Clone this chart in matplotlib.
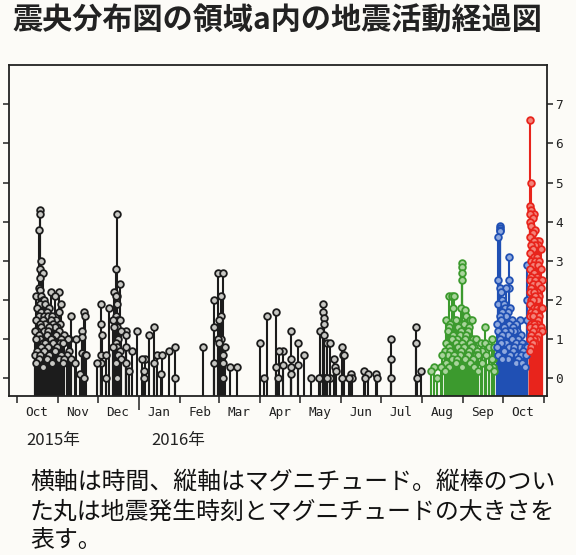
import numpy as np
import matplotlib
matplotlib.use("Agg")
import matplotlib.pyplot as plt
import matplotlib.dates as mdates
from matplotlib.ticker import FixedLocator, NullFormatter, FuncFormatter

# magnitudes, grouped by day (several events per day)
black_days = [
    "2015-10-14", "2015-10-15", "2015-10-16", "2015-10-17", "2015-10-18",
    "2015-10-19", "2015-10-20", "2015-10-21", "2015-10-22", "2015-10-23",
    "2015-10-24", "2015-10-25", "2015-10-26", "2015-10-27", "2015-10-28",
    "2015-10-29", "2015-10-30", "2015-10-31", "2015-11-01", "2015-11-02",
    "2015-11-03", "2015-11-04", "2015-11-05", "2015-11-07", "2015-11-08",
    "2015-11-09", "2015-11-10", "2015-11-13", "2015-11-14", "2015-11-17",
    "2015-11-19", "2015-11-20", "2015-11-21", "2015-11-22", "2015-11-30",
    "2015-12-03", "2015-12-04", "2015-12-07", "2015-12-09", "2015-12-12",
    "2015-12-13", "2015-12-14", "2015-12-15", "2015-12-16", "2015-12-17",
    "2015-12-18", "2015-12-22", "2015-12-24", "2015-12-26", "2015-12-30",
    "2016-01-03", "2016-01-04", "2016-01-05", "2016-01-08", "2016-01-12",
    "2016-01-14", "2016-01-17", "2016-01-18", "2016-01-23", "2016-01-28",
    "2016-02-18", "2016-02-26", "2016-02-29", "2016-03-01", "2016-03-02",
    "2016-03-04", "2016-03-05", "2016-03-09", "2016-03-14", "2016-04-01",
    "2016-04-04", "2016-04-06", "2016-04-13", "2016-04-14", "2016-04-15",
    "2016-04-18", "2016-04-24", "2016-04-29", "2016-05-04", "2016-05-09",
    "2016-05-15", "2016-05-16", "2016-05-18", "2016-05-19", "2016-05-20",
    "2016-05-21", "2016-05-23", "2016-05-26", "2016-05-27", "2016-05-28",
    "2016-06-01", "2016-06-02", "2016-06-03", "2016-06-07", "2016-06-08",
    "2016-06-09", "2016-06-18", "2016-06-19", "2016-06-21", "2016-06-27",
    "2016-06-28", "2016-07-08", "2016-07-27", "2016-07-28", "2016-07-31",
]
black_mags = [
    [1.2, 0.6], [2.1, 1.5, 1.0, 0.4], [1.8, 1.2, 0.7], [3.8, 2.3, 1.6, 1.1, 0.5],
    [4.3, 4.2, 2.8, 2.55, 2.25, 1.9, 1.4, 1.0, 0.6],
    [3.0, 2.1, 1.7, 1.3, 0.8], [2.7, 2.0, 1.5, 0.9, 0.3], [2.0, 1.6, 1.2, 0.7],
    [1.9, 1.4, 0.9], [1.7, 1.1, 0.5],
    [1.6, 1.2, 0.8], [1.8, 1.3, 0.6], [2.2, 1.5, 1.0], [1.6, 1.0, 0.4], [1.4, 0.9],
    [2.1, 1.3, 0.7], [1.5, 1.1], [1.3, 0.8], [2.2, 1.7, 1.2, 0.5], [1.4, 0.9],
    [1.9, 1.0, 0.6], [0.9, 0.4], [1.1, 0.5], [0.6], [1.0],
    [1.0, 0.7], [1.6, 0.5], [0.4], [1.0], [0.1],
    [1.2, 1.05, 0.65], [1.7, 0.0], [1.6, 0.6], [0.6], [0.4],
    [1.9, 1.4, 0.6, 0.4], [1.1], [0.6, 0.0], [1.8], [1.5, 0.8],
    [2.2, 1.3], [2.8, 2.1, 1.6, 0.9, 0.4], [4.2, 2.1, 1.9, 1.3, 0.8, 0.0], [1.5, 1.0, 0.6], [2.4, 1.5, 0.7],
    [1.2, 0.5], [1.2, 1.1, 0.8, 0.4], [0.2], [0.7], [1.2],
    [0.5], [0.2, 0.0], [0.5], [1.1], [1.3, 0.4],
    [0.6], [0.1], [0.6], [0.7], [0.8, 0.0],
    [0.8], [2.0, 1.3, 0.4], [2.7, 1.0], [1.5, 0.9], [2.1, 1.6, 1.0],
    [2.7, 0.6, 0.4, 0.0], [0.8], [0.3], [0.3], [0.9],
    [0.0], [1.6], [1.7, 0.3], [0.0], [0.7],
    [0.7, 0.35], [1.2, 0.5, 0.3, 0.1], [0.9, 0.35], [0.6], [0.0],
    [0.0], [1.2, 0.0], [1.9, 1.7, 0.0], [1.55, 1.4, 1.1, 0.0], [0.0],
    [0.9, 0.0], [0.9, 0.0], [0.5], [0.3], [0.2],
    [0.8, 0.0], [0.6], [0.6], [0.0], [0.1],
    [0.0], [0.2], [0.0], [0.1], [0.1],
    [0.0], [1.0, 0.5, 0.0], [1.3, 0.9], [0.0], [0.2],
]

green_days = [
    "2016-08-07", "2016-08-10", "2016-08-12", "2016-08-15", "2016-08-16",
    "2016-08-18", "2016-08-19", "2016-08-20", "2016-08-21", "2016-08-22",
    "2016-08-23", "2016-08-24", "2016-08-25", "2016-08-26", "2016-08-27",
    "2016-08-28", "2016-08-29", "2016-08-30", "2016-08-31", "2016-09-01",
    "2016-09-02", "2016-09-03", "2016-09-04", "2016-09-05", "2016-09-06",
    "2016-09-07", "2016-09-08", "2016-09-09", "2016-09-10", "2016-09-11",
    "2016-09-12", "2016-09-14", "2016-09-15", "2016-09-17", "2016-09-18",
    "2016-09-20", "2016-09-22", "2016-09-23", "2016-09-24",
]
green_mags = [
    [0.2], [0.3], [0.0], [0.3], [0.6],
    [0.7, 0.2], [1.5, 0.9, 0.4], [1.2, 0.6], [2.1, 1.3, 0.8, 0.3], [1.4, 0.7],
    [2.1, 1.0, 0.5], [1.8, 1.1], [2.1, 1.5, 0.6], [1.5, 0.9, 0.4], [1.0, 0.5],
    [1.3, 0.8], [1.1, 0.6], [1.8, 1.2, 0.7], [2.95, 2.85, 2.7, 2.5, 1.4, 0.9, 0.3], [1.4, 0.8],
    [1.75, 1.0, 0.5], [1.6, 1.1], [1.2, 0.6], [1.3, 0.7], [1.5, 0.9, 0.4],
    [1.5, 0.8], [1.0, 0.5], [0.8, 0.3], [1.0, 0.6], [0.7],
    [0.6, 0.2], [0.9], [0.7, 0.4], [1.3, 0.9], [0.6],
    [0.8, 0.3], [1.0, 0.5], [0.5, 0.3], [0.8, 0.2],
]

blue_days = [
    "2016-09-26", "2016-09-27", "2016-09-28", "2016-09-29", "2016-09-30",
    "2016-10-01", "2016-10-02", "2016-10-03", "2016-10-04", "2016-10-05",
    "2016-10-06", "2016-10-07", "2016-10-08", "2016-10-09", "2016-10-10",
    "2016-10-11", "2016-10-12", "2016-10-13", "2016-10-14", "2016-10-15",
    "2016-10-16", "2016-10-17", "2016-10-18", "2016-10-19",
]
blue_mags = [
    [1.4, 0.8], [3.6, 2.5, 1.9, 1.2, 0.6], [3.9, 3.85, 3.8, 3.75, 2.3, 1.6, 1.0],
    [2.2, 1.5, 0.9], [2.0, 1.7, 1.1, 0.5],
    [1.9, 1.3, 0.7], [1.8, 1.2], [2.3, 1.6, 0.9], [1.7, 1.1, 0.5], [3.1, 2.5, 2.3, 1.4, 0.8],
    [1.8, 1.2, 0.6], [1.5, 1.0], [1.3, 0.7], [1.2, 0.8], [1.4, 0.9, 0.4],
    [1.2, 0.6], [1.0, 0.5], [1.5, 0.8], [1.1, 0.6], [0.9, 0.4],
    [0.7], [0.8, 0.3], [0.6], [2.9, 2.0, 1.5, 0.8],
]

red_days = [
    "2016-10-21", "2016-10-22", "2016-10-23", "2016-10-24", "2016-10-25",
    "2016-10-26", "2016-10-27", "2016-10-28", "2016-10-29", "2016-10-30",
]
red_mags = [
    [4.2, 4.4, 4.0, 3.6, 3.2, 2.8, 2.5, 2.2, 1.9, 1.6, 1.3, 1.0, 0.7],
    [5.0, 4.3, 3.9, 3.4, 3.0, 2.6, 2.3, 2.0, 1.7, 1.4, 1.1, 0.8],
    [4.1, 3.7, 3.3, 2.9, 2.4, 2.0, 1.6, 1.2, 0.9],
    [4.2, 3.5, 3.1, 2.7, 2.2, 1.8, 1.4, 1.0],
    [3.8, 3.4, 3.0, 2.5, 2.1, 1.7, 1.3, 0.9],
    [3.5, 3.1, 2.6, 2.2, 1.8, 1.4, 1.0],
    [3.4, 2.9, 2.4, 2.0, 1.5, 1.1],
    [3.5, 3.0, 2.5, 2.1, 1.6, 1.2],
    [3.3, 2.8, 2.3, 1.8, 1.3],
    [2.5, 1.8, 1.2],
]
main_time = "2016-10-21 14:07"
main_mag = 6.6

months = ["2015-%02d-01" % m for m in (10, 11, 12)] + ["2016-%02d-01" % m for m in range(1, 12)]
year_labels = [("2015-10-08", "2015年"), ("2016-01-10", "2016年")]

title = "震央分布図の領域a内の地震活動経過図"
caption = ["横軸は時間、縦軸はマグニチュード。縦棒のつい",
           "た丸は地震発生時刻とマグニチュードの大きさを",
           "表す。"]

# stem colour, circle fill
styles = {
    "black": ("#1c1c1c", "#c8c8c4"),
    "green": ("#3c9a2e", "#a9d49c"),
    "blue": ("#2050b4", "#8fa9de"),
    "red": ("#e8241c", "#f4837a"),
}
jp = ["Noto Sans CJK JP", "DejaVu Sans"]
YMIN, YMAX = -0.45, 8.0


def expand(days, mags):
    xs, ys = [], []
    for d, ms in zip(days, mags):
        t = mdates.datestr2num(d) + 0.5
        for m in ms:
            xs.append(t)
            ys.append(m)
    return np.array(xs), np.array(ys)


groups = [
    (black_days, black_mags, "black"),
    (green_days, green_mags, "green"),
    (blue_days, blue_mags, "blue"),
    (red_days, red_mags, "red"),
]

fig = plt.figure(figsize=(5.76, 5.55), dpi=100)
fig.patch.set_facecolor("#fcfbf7")
ax = fig.add_axes([0.0162, 0.2865, 0.933, 0.5964])
ax.set_facecolor("#fcfbf7")

for days, mags, name in groups:
    col, face = styles[name]
    xs, ys = expand(days, mags)
    if name == "red":
        xs = np.append(xs, mdates.datestr2num(main_time))
        ys = np.append(ys, main_mag)
    order = np.argsort(-ys)
    xs, ys = xs[order], ys[order]
    ax.vlines(xs, YMIN, ys, color=col, lw=1.5, zorder=2)
    ax.plot(xs, ys, "o", ms=4.8, mfc=face, mec=col, mew=1.3, zorder=3, ls="none")

ax.set_xlim(mdates.datestr2num("2015-09-25 10:00"), mdates.datestr2num("2016-11-03"))
ax.set_ylim(YMIN, YMAX)

# month boundaries as ticks, month names centred in between
month_nums = [mdates.datestr2num(m) for m in months]
ax.xaxis.set_major_locator(FixedLocator(month_nums))
ax.xaxis.set_major_formatter(NullFormatter())
mid_nums = [n + 15 for n in month_nums[:-1]]
ax.xaxis.set_minor_locator(FixedLocator(mid_nums))
ax.xaxis.set_minor_formatter(FuncFormatter(lambda v, p: mdates.num2date(v).strftime("%b")))
ax.tick_params(axis="x", which="major", direction="out", length=5, width=1.1, color="#222222")
ax.tick_params(axis="x", which="minor", length=0, pad=7, labelsize=9.2)
for lab in ax.get_xticklabels(minor=True):
    lab.set_family("DejaVu Sans Mono")
    lab.set_color("#222222")
for tk, n in zip(ax.xaxis.get_major_ticks(), month_nums):
    if mdates.num2date(n).month == 1:
        tk.tick1line.set_markersize(10)

ax.set_yticks(range(0, 8))
ax.tick_params(axis="y", direction="out", length=4, width=1.1, left=True, right=True,
               labelleft=False, labelright=True, labelsize=9.2, pad=2, color="#222222")
for lab in ax.get_yticklabels():
    lab.set_family("DejaVu Sans Mono")
    lab.set_color("#222222")

for sp in ax.spines.values():
    sp.set_linewidth(1.3)
    sp.set_color("#222222")

for d, txt in year_labels:
    ax.text(mdates.datestr2num(d), -0.135, txt, transform=ax.get_xaxis_transform(),
            ha="left", va="center", fontsize=12, family=jp, color="#222222")

fig.text(0.021, 0.962, title, fontsize=21.7, weight="bold", family=jp,
         ha="left", va="center", color="#222222")
for i, line in enumerate(caption):
    fig.text(0.052, 0.130 - i * 0.0523, line, fontsize=17.2, family=jp,
             ha="left", va="center", color="#111111")

fig.savefig("out.png", dpi=100, facecolor=fig.get_facecolor())
